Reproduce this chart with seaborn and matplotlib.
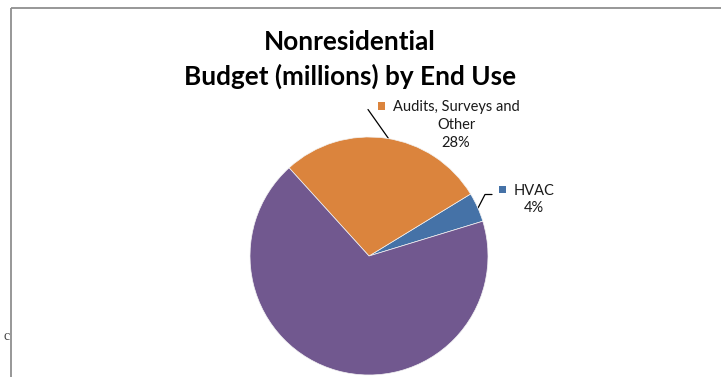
import matplotlib
matplotlib.use("Agg")
import matplotlib.pyplot as plt
import seaborn as sns
from matplotlib.patches import Rectangle

# Budget shares by end use (percent)
categories = ["HVAC", "Audits, Surveys and\nOther", "Process"]
shares = [4, 28, 68]
colors = ["#4572A7", "#DB843D", "#71588F"]
title_lines = ["Nonresidential", "Budget (millions) by End Use"]

sns.set_theme(style="white")
plt.rcParams["font.family"] = ["Lato", "DejaVu Sans"]

W, H = 721, 377
fig = plt.figure(figsize=(W / 100, H / 100), dpi=100)
fig.patch.set_facecolor("white")

# overlay axes in pixel units for frame, titles, labels and leader lines
ov = fig.add_axes([0, 0, 1, 1])
ov.set_xlim(0, W)
ov.set_ylim(H, 0)
ov.axis("off")

# pie axes: centre and radius in pixels
cx, cy, r = 369, 256, 119
ax = fig.add_axes([(cx - r) / W, (H - cy - r) / H, 2 * r / W, 2 * r / H])
wedges, _ = ax.pie(
    shares,
    colors=colors,
    startangle=17,
    counterclock=True,
    radius=1,
    wedgeprops=dict(edgecolor="#f4f4f4", linewidth=0.5),
)
ax.set_xlim(-1, 1)
ax.set_ylim(-1, 1)
ax.axis("off")

# chart frame (top and left edges visible)
frame_col = "#8f8f8f"
ov.plot([11, W], [7.5, 7.5], color=frame_col, lw=1.3, solid_capstyle="butt")
ov.plot([11, 11], [7.5, H], color=frame_col, lw=1.3, solid_capstyle="butt")

# stray text peeking out behind the chart
ov.text(6.5, 337, "c", fontsize=10, color="#444444", ha="center", va="center",
        family=["Liberation Serif", "DejaVu Serif"])

# title
title_fs = 18.8
ov.text(350, 42, title_lines[0], fontsize=title_fs, fontweight="bold", color="black",
        ha="center", va="center")
ov.text(350, 76, title_lines[1], fontsize=title_fs, fontweight="bold", color="black",
        ha="center", va="center")

lab_fs = 10.5
lab_col = "#1a1a1a"

# Audits label with legend key and leader line
ov.text(456, 125, f"{categories[1]}\n{shares[1]}%", fontsize=lab_fs, color=lab_col,
        ha="center", va="center", linespacing=1.35)
ov.add_patch(Rectangle((377.5, 102), 7.5, 7.5, facecolor=colors[1], edgecolor="none"))
ov.plot([368, 388.5], [109.5, 138.5], color="black", lw=0.9)

# HVAC label with legend key and leader line
ov.text(534, 199.5, f"{categories[0]}\n{shares[0]}%", fontsize=lab_fs, color=lab_col,
        ha="center", va="center", linespacing=1.35)
ov.add_patch(Rectangle((498.5, 186), 7, 7, facecolor=colors[0], edgecolor="none"))
ov.plot([492, 485, 478], [194.5, 194.5, 208], color="black", lw=0.9)

# Process label inside its wedge
ov.text(318, 278.5, f"{categories[2]}\n{shares[2]}%", fontsize=lab_fs, color=lab_col,
        ha="center", va="center", linespacing=1.35)

fig.savefig("out.png", dpi=100, facecolor="white")
